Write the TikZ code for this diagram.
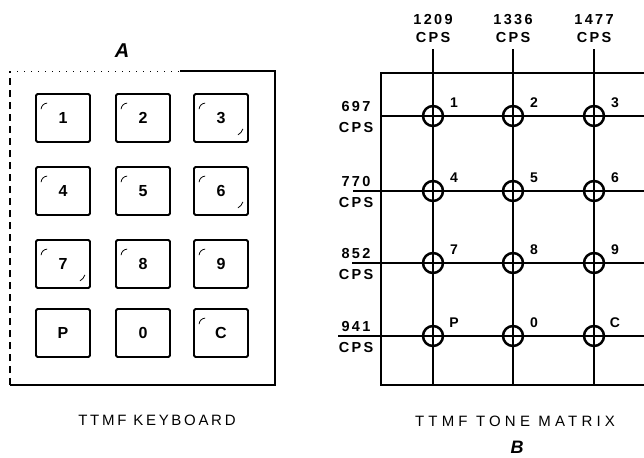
\documentclass[tikz,border=0pt]{standalone}
\usepackage{fontspec}
\setmainfont{Liberation Sans}
\newfontfamily\lblfont[LetterSpace=16]{Liberation Sans}
\newfontfamily\capLfont[LetterSpace=18]{Liberation Sans}
\newfontfamily\capRfont[LetterSpace=28]{Liberation Sans}
\usetikzlibrary{positioning}
\tikzset{key/.style={draw,line width=1.8pt,minimum width=54pt,minimum height=48pt,rounded corners=1.5pt,inner sep=0pt,font=\fontsize{16}{16}\bfseries},
hole/.style={draw,circle,line width=2.5pt,minimum size=20pt,inner sep=0pt},
lbl/.style={align=center,inner sep=0pt,font=\lblfont\fontsize{14.5}{18}\bfseries},
tag/.style={inner sep=0pt,font=\fontsize{14}{14}\bfseries},
fr/.style={line width=1.8pt},ln/.style={line width=1.3pt},gl/.style={line width=0.8pt},
hd/.style={inner sep=0pt,font=\fontsize{20}{20}\bfseries\itshape}}
\begin{document}
\begin{tikzpicture}[x=1pt,y=-1pt]
\useasboundingbox(0,0)rectangle(644,457);
% keyboard
\coordinate(kbnw)at(10,71);\coordinate(kbse)at(275,385);\coordinate(kbtop)at(180,71);
\draw[fr](kbtop)-|(kbse)--(kbse-|kbnw);
\draw[fr,line width=1.2pt,dash pattern=on 7pt off 5pt](kbse-|kbnw)--(kbnw);
\draw[gl,dash pattern=on 1pt off 6pt](kbnw)--(kbtop);
\node[hd](A)at(122,51){A};
\foreach\y/\a/\b/\c in{118/1/2/3,191/4/5/6,264/7/8/9,333/P/0/C}{
\node[key](k\a)at(63,\y){\a};\node[key](k\b)at(143,\y){\b};\node[key](k\c)at(221,\y){\c};}
\foreach\k in{1,2,3,4,5,6,7,8,9,C}\draw[gl]([shift={(6,16)}]k\k.north west)to[bend left=40]++(6,-6);
\foreach\k in{3,6,7}\draw[gl]([shift={(-6,-14)}]k\k.south east)to[bend left=20]++(-5,6);
\node[inner sep=0pt,font=\capLfont\fontsize{15}{15}\selectfont](kbcap)at(157,420){TTMF KEYBOARD};
% tone matrix
\coordinate(mnw)at(381,73);\coordinate(mse)at(644,385);
\draw[fr](mse|-mnw)-|(mse-|mnw)--(mse);
\foreach\x/\f[count=\j]in{433/1209,513/1336,594/1477}{
\node[lbl](t\j)at(\x,29){\f\\CPS};\coordinate(cb\j)at(\x,385);
\draw[ln]([yshift=-6pt]t\j.south)--(cb\j);}
\foreach\y/\s/\f[count=\i]in{116/381/697,191/353/770,263/352/852,336/338/941}{
\node[lbl](r\i)at(356,\y+1.5){\f\\[3pt]CPS};\coordinate(rl\i)at(\s,\y);\coordinate(rr\i)at(644,\y);
\draw[ln](rl\i)--(rr\i);}
\foreach\i/\a/\b/\c in{1/1/2/3,2/4/5/6,3/7/8/9,4/P/0/C}{
\foreach\j/\t in{1/\a,2/\b,3/\c}{
\node[hole](h\t)at(cb\j|-rr\i){};\node[tag](l\t)at([shift={(21,-13)}]h\t.center){\t};}}
\node[inner sep=0pt,font=\capRfont\fontsize{15}{15}\selectfont](mxcap)at(515,421){TTMF TONE MATRIX};
\node[hd,font=\fontsize{18}{18}\bfseries\itshape](B)at(517,447){B};
\end{tikzpicture}
\end{document}
